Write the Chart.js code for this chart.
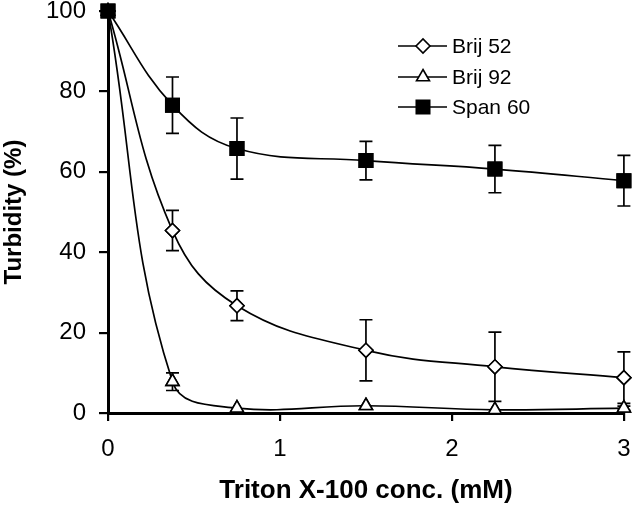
<!DOCTYPE html>
<html>
<head>
<meta charset="utf-8">
<script src="https://cdn.jsdelivr.net/npm/chart.js@4/dist/chart.umd.min.js"></script>
<style>
  body { margin: 0; background: #fff; }
</style>
</head>
<body>
<canvas id="canvas" width="635" height="505"></canvas>
<script>
// Triton X-100 concentration (mM)
var conc = [0, 0.375, 0.75, 1.5, 2.25, 3];

var brij52 = [100, 45.4, 26.7, 15.6, 11.5, 8.8];
var brij52Err = [0, 5, 3.7, 7.6, 8.6, 6.4];

var brij92 = [100, 7.8, 1.2, 1.8, 0.8, 1.2];
var brij92Err = [0, 2.2, 0, 0, 0, 0.5];

var span60 = [100, 76.6, 65.8, 62.8, 60.7, 57.8];
var span60Err = [0, 7, 7.6, 4.8, 5.9, 6.3];

var xTicks = [0, 1, 2, 3];
var yTicks = [0, 20, 40, 60, 80, 100];

var FONT = "'Liberation Sans', Arial, sans-serif";

function points(ys) {
  return conc.map(function (x, i) { return { x: x, y: ys[i] }; });
}

function marker(ctx, ds, x, y) {
  ctx.fillStyle = ds.pointBackgroundColor;
  ctx.strokeStyle = '#000';
  ctx.lineWidth = ds.pointBorderWidth;
  Chart.helpers.drawPoint(ctx, {
    pointStyle: ds.pointStyle, radius: ds.pointRadius,
    borderWidth: ds.pointBorderWidth, rotation: 0
  }, x, y);
}

// vertical error bars with caps, markers redrawn on top
var errorBars = {
  id: 'errorBars',
  afterDatasetsDraw: function (chart) {
    var ctx = chart.ctx, xs = chart.scales.x, ys = chart.scales.y;
    ctx.save();
    ctx.strokeStyle = '#000';
    ctx.lineWidth = 1.7;
    chart.data.datasets.forEach(function (ds) {
      ds.errors.forEach(function (e, i) {
        if (!e) return;
        var px = xs.getPixelForValue(ds.data[i].x);
        var top = ys.getPixelForValue(ds.data[i].y + e);
        var bot = ys.getPixelForValue(Math.max(0, ds.data[i].y - e));
        ctx.beginPath();
        ctx.moveTo(px, top); ctx.lineTo(px, bot);
        ctx.moveTo(px - 6.5, top); ctx.lineTo(px + 6.5, top);
        ctx.moveTo(px - 6.5, bot); ctx.lineTo(px + 6.5, bot);
        ctx.stroke();
      });
    });
    chart.data.datasets.forEach(function (ds, di) {
      chart.getDatasetMeta(di).data.forEach(function (pt) {
        marker(ctx, ds, pt.x, pt.y);
      });
    });
    ctx.restore();
  }
};

// legend with line + marker, inside the plot
var lineLegend = {
  id: 'lineLegend',
  afterDraw: function (chart) {
    var ctx = chart.ctx;
    var rows = [46, 77, 107];
    ctx.save();
    chart.data.datasets.forEach(function (ds, i) {
      var y = rows[i];
      ctx.strokeStyle = '#000';
      ctx.lineWidth = 1.7;
      ctx.beginPath();
      ctx.moveTo(398, y); ctx.lineTo(447, y);
      ctx.stroke();
      marker(ctx, ds, 423, y);
      ctx.fillStyle = '#000';
      ctx.font = '21px ' + FONT;
      ctx.textAlign = 'left';
      ctx.textBaseline = 'middle';
      ctx.fillText(ds.label, 452, y + 1);
    });
    ctx.restore();
  }
};

function series(label, ys, errs, style, radius, fill) {
  return {
    label: label,
    data: points(ys),
    errors: errs,
    borderColor: '#000',
    borderWidth: 1.7,
    tension: 0.4,
    fill: false,
    clip: false,
    pointStyle: style,
    pointRadius: radius,
    pointBorderWidth: 1.6,
    pointBackgroundColor: fill,
    pointBorderColor: '#000'
  };
}

var ctx = document.getElementById('canvas').getContext('2d');
var chart = new Chart(ctx, {
  type: 'line',
  data: {
    datasets: [
      series('Brij 52', brij52, brij52Err, 'rectRot', 7, '#fff'),
      series('Brij 92', brij92, brij92Err, 'triangle', 7.5, '#fff'),
      series('Span 60', span60, span60Err, 'rect', 9.5, '#000')
    ]
  },
  options: {
    responsive: false,
    animation: false,
    layout: { padding: { top: 10, right: 10, left: 0, bottom: 0 } },
    plugins: { legend: { display: false }, tooltip: { enabled: false } },
    scales: {
      x: {
        type: 'linear',
        min: 0, max: 3,
        afterFit: function (s) { s.height = 92; s.paddingLeft = 0; s.paddingRight = 0; },
        afterBuildTicks: function (s) { s.ticks = xTicks.map(function (v) { return { value: v }; }); },
        grid: { drawOnChartArea: false, drawTicks: true, tickLength: 8, color: '#000', lineWidth: 2.2 },
        border: { color: '#000', width: 3 },
        ticks: { color: '#000', font: { family: FONT, size: 24 }, padding: 14, maxRotation: 0 },
        title: {
          display: true, text: 'Triton X-100 conc. (mM)', color: '#000',
          font: { family: FONT, size: 26, weight: 'bold', lineHeight: 1.1 }, padding: { top: 0, bottom: 0 }
        }
      },
      y: {
        min: 0, max: 100,
        afterFit: function (s) { s.width = 108; s.paddingTop = 0; s.paddingBottom = 0; },
        afterBuildTicks: function (s) { s.ticks = yTicks.map(function (v) { return { value: v }; }); },
        grid: { drawOnChartArea: false, drawTicks: true, tickLength: 9, color: '#000', lineWidth: 2.2 },
        border: { color: '#000', width: 3 },
        ticks: { color: '#000', font: { family: FONT, size: 24 }, padding: 13 },
        title: {
          display: true, text: 'Turbidity (%)', color: '#000',
          font: { family: FONT, size: 24, weight: 'bold' }, padding: { top: 0, bottom: 0 }
        }
      }
    }
  },
  plugins: [errorBars, lineLegend]
});
</script>
</body>
</html>
